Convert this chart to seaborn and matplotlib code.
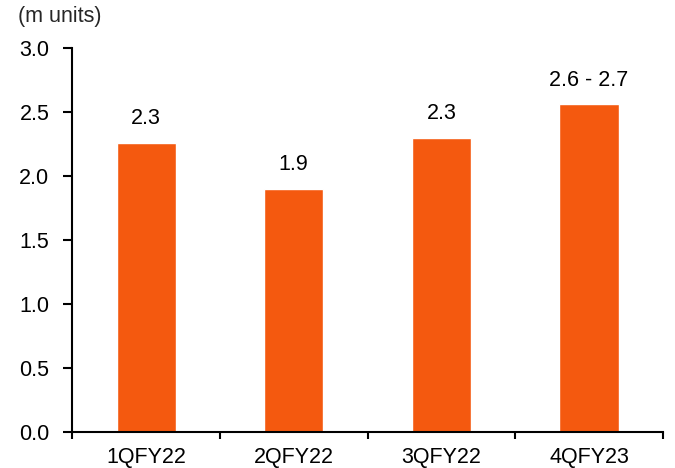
import matplotlib
matplotlib.use("Agg")
import matplotlib.pyplot as plt
import pandas as pd
import seaborn as sns

quarters = ["1QFY22", "2QFY22", "3QFY22", "4QFY23"]
volumes = [2.26, 1.90, 2.30, 2.56]
bar_labels = ["2.3", "1.9", "2.3", "2.6 - 2.7"]
y_ticks = [0.0, 0.5, 1.0, 1.5, 2.0, 2.5, 3.0]

BAR_COLOR = "#F4590F"
FS = 15.5


def main() -> None:
    sns.set_theme(style="white")
    plt.rcParams["font.family"] = ["Liberation Sans", "DejaVu Sans"]

    df = pd.DataFrame({"quarter": quarters, "volume": volumes})

    fig = plt.figure(figsize=(6.75, 4.68), dpi=100)
    ax = fig.add_axes([0.107, 0.077, 0.875, 0.82])
    sns.barplot(data=df, x="quarter", y="volume", color=BAR_COLOR,
                width=0.4, saturation=1, ax=ax)

    for i, (v, lab) in enumerate(zip(volumes, bar_labels)):
        ax.annotate(lab, (i, v), xytext=(0, 10), textcoords="offset points",
                    ha="center", va="bottom", fontsize=FS, color="black")

    ax.set_xlim(-0.5, 3.5)
    ax.set_ylim(0, 3.0)
    ax.set_yticks(y_ticks)
    ax.set_yticklabels([f"{t:.1f}" for t in y_ticks])
    ax.set_xticks(range(len(quarters)))
    ax.set_xticks([x - 0.5 for x in range(len(quarters) + 1)], minor=True)
    ax.tick_params(axis="x", which="major", length=0, pad=11, labelsize=FS, colors="black")
    ax.tick_params(axis="x", which="minor", direction="out", length=5, width=1.5,
                   color="black", bottom=True)
    ax.tick_params(axis="y", direction="out", length=6.5, width=1.5, left=True,
                   pad=10, labelsize=FS, colors="black")
    ax.set_xlabel("")
    ax.set_ylabel("")

    for side in ["top", "right"]:
        ax.spines[side].set_visible(False)
    for side in ["left", "bottom"]:
        ax.spines[side].set_color("black")
        ax.spines[side].set_linewidth(1.5)

    fig.text(0.026, 0.988, "(m units)", ha="left", va="top", fontsize=FS)

    fig.savefig("out.png", dpi=100)
    plt.close(fig)


if __name__ == "__main__":
    main()
